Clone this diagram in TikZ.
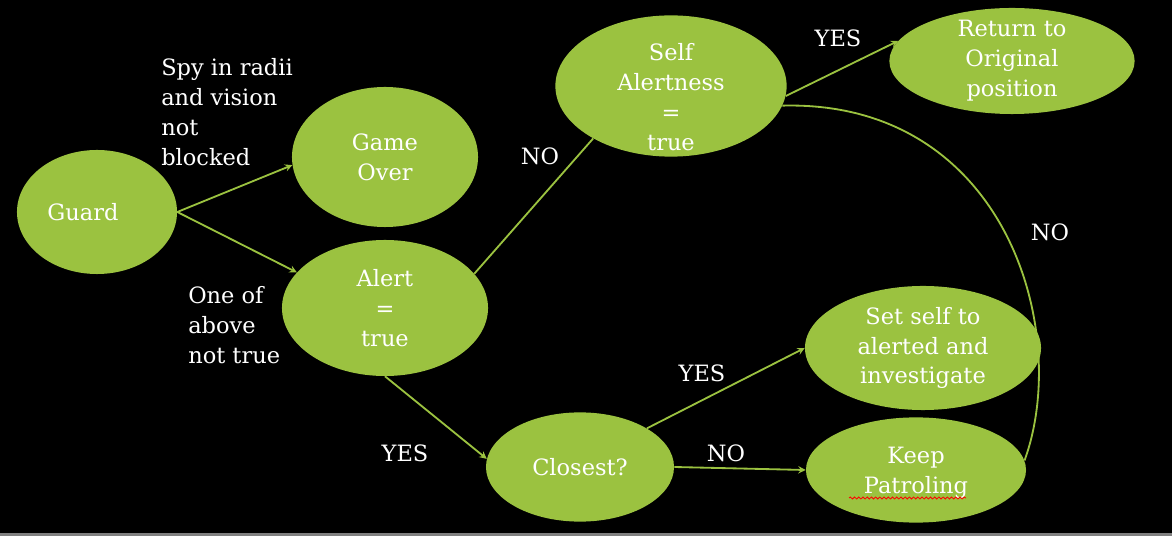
\documentclass[tikz,border=0pt]{standalone}
\usepackage{fontspec}
\setmainfont{DejaVu Serif}
\usetikzlibrary{shapes.geometric,decorations.pathmorphing}
\definecolor{leaf}{RGB}{155,194,64}
\tikzset{
	state/.style={ellipse,fill=leaf,draw=none,inner sep=0pt},
	txt/.style={text=white,align=left,inner sep=0pt,font=\fontsize{16pt}{21.3pt}\selectfont},
	inside/.style={text=white,align=center,inner sep=0pt,font=\fontsize{16pt}{21.3pt}\selectfont},
	link/.style={draw=leaf,line width=1.3pt}
}
\begin{document}
\begin{tikzpicture}[x=0.025cm,y=-0.025cm]
			\fill[black] (0,0) rectangle (1172,536);
			\fill[gray] (0,533.5) rectangle (1172,536);
			
			% states
			\node[state,minimum width=4cm,minimum height=3.1cm,label={[inside,xshift=-0.35cm]center:Guard}] (guard) at (97,212) {};
			\node[state,minimum width=4.65cm,minimum height=3.5cm,label={[inside]center:Game\\Over}] (over) at (385,157) {};
			\node[state,minimum width=5.15cm,minimum height=3.4cm,label={[inside]center:Alert\\=\\true}] (alert) at (385,308) {};
			\node[state,minimum width=5.78cm,minimum height=3.53cm,label={[inside,yshift=-0.28cm]center:Self\\Alertness\\=\\true}] (self) at (671,86) {};
			\node[state,minimum width=6.13cm,minimum height=2.65cm,label={[inside]center:Return to\\Original\\position}] (back) at (1012,61) {};
			\node[state,minimum width=5.9cm,minimum height=3.1cm,label={[inside]center:Set self to\\alerted and\\investigate}] (invest) at (923,348) {};
			\node[state,minimum width=4.7cm,minimum height=2.73cm,label={[inside]center:Closest?}] (closest) at (580,467) {};
			\node[state,minimum width=5.5cm,minimum height=2.63cm,label={[inside,yshift=-0.07cm]center:Keep\\Patroling}] (patrol) at (916,470) {};
			\draw[red,line width=0.6pt,decorate,decoration={snake,amplitude=0.7pt,segment length=3pt}] (849,498) -- (966,498);
			
			% connectors
			\draw[link,-stealth] (guard.east) -- (over.185);
			\draw[link,-stealth] (guard.east) -- (alert.158);
			\draw[link] (alert.21) -- (self.214);
			\draw[link,-stealth] (self.-5) -- (back.170);
			\draw[link,-stealth] (alert.south) -- (closest.175);
			\draw[link,-stealth] (closest.30) -- (invest.west);
			\draw[link,-stealth] (closest.east) -- (patrol.west);
			\draw[link] (patrol.5) .. controls (1072,330) and (1005,100) .. (self.-10);
			
			% labels
			\node[txt,anchor=west] (spy) at (161,112) {Spy in radii\\and vision\\not\\blocked};
			\node[txt,anchor=west] (none) at (188,325) {One of\\above\\not true};
			\node[txt] (no1) at (540,156) {NO};
			\node[txt] (yes1) at (838,38) {YES};
			\node[txt] (no2) at (1050,232) {NO};
			\node[txt] (yes2) at (702,373) {YES};
			\node[txt] (yes3) at (405,453) {YES};
			\node[txt] (no3) at (726,453) {NO};
\end{tikzpicture}
\end{document}
